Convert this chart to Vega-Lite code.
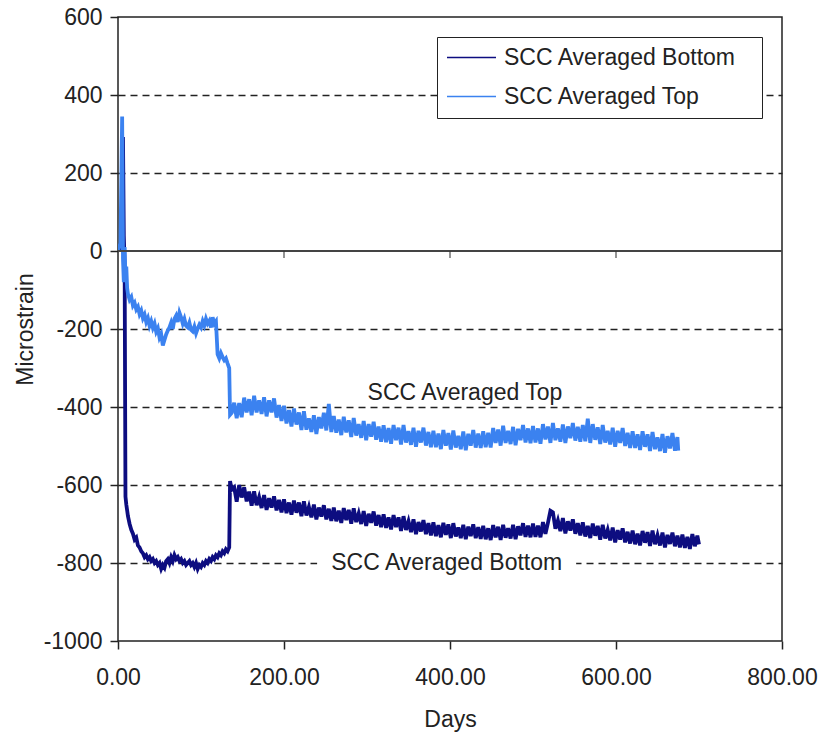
{
  "$schema": "https://vega.github.io/schema/vega-lite/v6.json",
  "width": 664,
  "height": 624,
  "autosize": "none",
  "padding": {"left": 118, "top": 17, "right": 43, "bottom": 95},
  "background": "white",
  "config": {
    "font": "Liberation Sans",
    "view": {"stroke": "#222", "strokeWidth": 1.5},
    "axis": {
      "domain": false,
      "labelFontSize": 23,
      "labelColor": "#222",
      "titleFontSize": 23,
      "titleFontWeight": "normal",
      "titleColor": "#222",
      "tickColor": "#222",
      "tickWidth": 1.5,
      "tickSize": 8
    }
  },
  "datasets": {
    "series": [
      {"d":0,"t":0,"b":0},{"d":3,"t":20,"b":10},{"d":5,"t":345,"b":40},{"d":6,"t":-20,"b":292},{"d":7,"t":-80,"b":40},{"d":8,"t":10,"b":-40},{"d":9,"t":-70,"b":-630},{"d":10,"t":-40,"b":-650},{"d":11,"t":-95,"b":-665},
      {"d":12,"t":-110,"b":-680},{"d":14,"t":-125,"b":-700},{"d":16,"t":-118,"b":-715},{"d":18,"t":-140,"b":-725},{"d":20,"t":-133,"b":-740},{"d":22,"t":-150,"b":-735},{"d":24,"t":-143,"b":-755},{"d":26,"t":-162,"b":-760},{"d":28,"t":-153,"b":-770},{"d":30,"t":-172,"b":-775},
      {"d":32,"t":-163,"b":-785},{"d":34,"t":-182,"b":-780},{"d":36,"t":-172,"b":-790},{"d":38,"t":-192,"b":-785},{"d":40,"t":-180,"b":-795},{"d":42,"t":-197,"b":-790},{"d":44,"t":-186,"b":-800},{"d":46,"t":-207,"b":-795},{"d":48,"t":-198,"b":-805},{"d":50,"t":-222,"b":-800},
      {"d":52,"t":-213,"b":-815},{"d":54,"t":-242,"b":-805},{"d":56,"t":-228,"b":-812},{"d":58,"t":-214,"b":-795},{"d":60,"t":-204,"b":-790},{"d":62,"t":-196,"b":-800},{"d":64,"t":-184,"b":-785},{"d":66,"t":-200,"b":-795},{"d":68,"t":-174,"b":-780},{"d":70,"t":-166,"b":-790},
      {"d":72,"t":-182,"b":-785},{"d":74,"t":-158,"b":-795},{"d":76,"t":-170,"b":-790},{"d":78,"t":-186,"b":-800},{"d":80,"t":-174,"b":-795},{"d":82,"t":-192,"b":-805},{"d":84,"t":-196,"b":-800},{"d":86,"t":-184,"b":-795},{"d":88,"t":-202,"b":-805},{"d":90,"t":-206,"b":-800},
      {"d":92,"t":-194,"b":-810},{"d":94,"t":-211,"b":-800},{"d":96,"t":-199,"b":-815},{"d":98,"t":-189,"b":-805},{"d":100,"t":-196,"b":-810},{"d":102,"t":-180,"b":-800},{"d":104,"t":-191,"b":-805},{"d":106,"t":-174,"b":-795},{"d":108,"t":-186,"b":-800},{"d":110,"t":-179,"b":-790},
      {"d":112,"t":-196,"b":-795},{"d":114,"t":-170,"b":-785},{"d":116,"t":-186,"b":-790},{"d":118,"t":-180,"b":-780},{"d":120,"t":-265,"b":-785},{"d":122,"t":-275,"b":-775},{"d":124,"t":-262,"b":-780},{"d":126,"t":-272,"b":-770},{"d":128,"t":-280,"b":-775},{"d":130,"t":-275,"b":-765},
      {"d":132,"t":-288,"b":-770},{"d":134,"t":-300,"b":-760},{"d":135,"t":-420,"b":-590},{"d":137,"t":-415,"b":-612},
      {"d":140,"t":-389,"b":-606},{"d":143,"t":-429,"b":-643},{"d":146,"t":-390,"b":-600},{"d":149,"t":-426,"b":-632},{"d":152,"t":-376,"b":-606},{"d":155,"t":-414,"b":-642},{"d":158,"t":-380,"b":-617},{"d":161,"t":-421,"b":-653},{"d":164,"t":-371,"b":-616},{"d":167,"t":-414,"b":-652},
      {"d":170,"t":-383,"b":-631},{"d":173,"t":-418,"b":-659},{"d":176,"t":-375,"b":-626},{"d":179,"t":-424,"b":-664},{"d":182,"t":-383,"b":-634},{"d":185,"t":-414,"b":-658},{"d":188,"t":-378,"b":-629},{"d":191,"t":-427,"b":-665},{"d":194,"t":-395,"b":-638},{"d":197,"t":-436,"b":-670},
      {"d":200,"t":-397,"b":-637},{"d":203,"t":-442,"b":-672},{"d":206,"t":-408,"b":-645},{"d":209,"t":-450,"b":-676},{"d":212,"t":-404,"b":-640},{"d":215,"t":-445,"b":-671},{"d":218,"t":-414,"b":-645},{"d":221,"t":-459,"b":-680},{"d":224,"t":-411,"b":-642},{"d":227,"t":-458,"b":-678},
      {"d":230,"t":-429,"b":-656},{"d":233,"t":-464,"b":-683},{"d":236,"t":-421,"b":-650},{"d":239,"t":-469,"b":-688},{"d":242,"t":-426,"b":-658},{"d":245,"t":-455,"b":-681},{"d":248,"t":-415,"b":-652},{"d":251,"t":-460,"b":-688},{"d":254,"t":-392,"b":-661},{"d":257,"t":-464,"b":-692},
      {"d":260,"t":-423,"b":-658},{"d":263,"t":-466,"b":-693},{"d":266,"t":-432,"b":-666},{"d":269,"t":-472,"b":-697},{"d":272,"t":-425,"b":-659},{"d":275,"t":-465,"b":-690},{"d":278,"t":-434,"b":-664},{"d":281,"t":-477,"b":-699},{"d":284,"t":-428,"b":-660},{"d":287,"t":-473,"b":-695},
      {"d":290,"t":-444,"b":-673},{"d":293,"t":-479,"b":-700},{"d":296,"t":-436,"b":-667},{"d":299,"t":-485,"b":-705},{"d":302,"t":-444,"b":-674},{"d":305,"t":-476,"b":-697},{"d":308,"t":-438,"b":-668},{"d":311,"t":-484,"b":-704},{"d":314,"t":-450,"b":-677},{"d":317,"t":-489,"b":-708},
      {"d":320,"t":-447,"b":-675},{"d":323,"t":-490,"b":-710},{"d":326,"t":-454,"b":-683},{"d":329,"t":-494,"b":-714},{"d":332,"t":-446,"b":-677},{"d":335,"t":-485,"b":-708},{"d":338,"t":-453,"b":-683},{"d":341,"t":-496,"b":-718},{"d":344,"t":-446,"b":-680},{"d":347,"t":-491,"b":-715},
      {"d":350,"t":-462,"b":-693},{"d":353,"t":-497,"b":-721},{"d":356,"t":-453,"b":-688},{"d":359,"t":-502,"b":-726},{"d":362,"t":-461,"b":-695},{"d":365,"t":-491,"b":-719},{"d":368,"t":-453,"b":-690},{"d":371,"t":-499,"b":-726},{"d":374,"t":-464,"b":-698},{"d":377,"t":-503,"b":-729},
      {"d":380,"t":-461,"b":-696},{"d":383,"t":-503,"b":-731},{"d":386,"t":-468,"b":-703},{"d":389,"t":-508,"b":-734},{"d":392,"t":-459,"b":-697},{"d":395,"t":-499,"b":-728},{"d":398,"t":-467,"b":-701},{"d":401,"t":-509,"b":-736},{"d":404,"t":-460,"b":-698},{"d":407,"t":-504,"b":-732},
      {"d":410,"t":-474,"b":-709},{"d":413,"t":-508,"b":-736},{"d":416,"t":-463,"b":-702},{"d":419,"t":-511,"b":-739},{"d":422,"t":-469,"b":-707},{"d":425,"t":-499,"b":-731},{"d":428,"t":-459,"b":-701},{"d":431,"t":-504,"b":-736},{"d":434,"t":-468,"b":-708},{"d":437,"t":-505,"b":-738},
      {"d":440,"t":-462,"b":-705},{"d":443,"t":-503,"b":-739},{"d":446,"t":-466,"b":-711},{"d":449,"t":-504,"b":-741},{"d":452,"t":-454,"b":-703},{"d":455,"t":-492,"b":-734},{"d":458,"t":-458,"b":-707},{"d":461,"t":-499,"b":-741},{"d":464,"t":-448,"b":-702},{"d":467,"t":-492,"b":-735},
      {"d":470,"t":-461,"b":-711},{"d":473,"t":-495,"b":-737},{"d":476,"t":-451,"b":-702},{"d":479,"t":-498,"b":-739},{"d":482,"t":-456,"b":-706},{"d":485,"t":-485,"b":-729},{"d":488,"t":-446,"b":-698},{"d":491,"t":-491,"b":-733},{"d":494,"t":-455,"b":-704},{"d":497,"t":-493,"b":-734},
      {"d":500,"t":-449,"b":-699},{"d":503,"t":-491,"b":-733},{"d":506,"t":-455,"b":-704},{"d":509,"t":-494,"b":-734},{"d":512,"t":-444,"b":-695},{"d":515,"t":-483,"b":-725},{"d":518,"t":-450,"b":-697},{"d":521,"t":-492,"b":-666},{"d":524,"t":-441,"b":-670},{"d":527,"t":-485,"b":-712},
      {"d":530,"t":-455,"b":-691},{"d":533,"t":-489,"b":-718},{"d":536,"t":-445,"b":-685},{"d":539,"t":-492,"b":-724},{"d":542,"t":-450,"b":-693},{"d":545,"t":-480,"b":-717},{"d":548,"t":-441,"b":-688},{"d":551,"t":-486,"b":-725},{"d":554,"t":-451,"b":-698},{"d":557,"t":-489,"b":-729},
      {"d":560,"t":-446,"b":-696},{"d":563,"t":-488,"b":-732},{"d":566,"t":-430,"b":-705},{"d":569,"t":-492,"b":-736},{"d":572,"t":-444,"b":-699},{"d":575,"t":-484,"b":-730},{"d":578,"t":-452,"b":-705},{"d":581,"t":-495,"b":-740},{"d":584,"t":-446,"b":-702},{"d":587,"t":-491,"b":-737},
      {"d":590,"t":-461,"b":-715},{"d":593,"t":-496,"b":-742},{"d":596,"t":-453,"b":-709},{"d":599,"t":-502,"b":-747},{"d":602,"t":-461,"b":-716},{"d":605,"t":-492,"b":-740},{"d":608,"t":-454,"b":-711},{"d":611,"t":-500,"b":-747},{"d":614,"t":-466,"b":-720},{"d":617,"t":-505,"b":-750},
      {"d":620,"t":-462,"b":-717},{"d":623,"t":-505,"b":-752},{"d":626,"t":-470,"b":-725},{"d":629,"t":-510,"b":-755},{"d":632,"t":-462,"b":-718},{"d":635,"t":-502,"b":-748},{"d":638,"t":-470,"b":-721},{"d":641,"t":-513,"b":-756},{"d":644,"t":-464,"b":-717},{"d":647,"t":-508,"b":-752},
      {"d":650,"t":-478,"b":-729},{"d":653,"t":-513,"b":-755},{"d":656,"t":-469,"b":-722},{"d":659,"t":-517,"b":-760},{"d":662,"t":-475,"b":-728},{"d":665,"t":-506,"b":-751},{"d":668,"t":-467,"b":-722},{"d":671,"t":-512,"b":-757},{"d":674,"t":-477,"b":-730},{"d":675,"t":-512},
      {"d":677,"b":-760},{"d":680,"b":-727},{"d":683,"b":-761},{"d":686,"b":-733},{"d":689,"b":-764},{"d":692,"b":-726},{"d":695,"b":-757},{"d":698,"b":-730},{"d":700,"b":-752}
    ],
    "zeroTicks": [{"d": 200}, {"d": 400}, {"d": 600}],
    "notes": [
      {"d": 418, "v": -382, "txt": "SCC Averaged Top"},
      {"d": 396, "v": -818, "txt": "SCC Averaged Bottom"}
    ],
    "mask": [{"d": 240, "d2": 552, "v": -794, "v2": -806}]
  },
  "layer": [
    {
      "data": {"name": "series"},
      "transform": [
        {"fold": ["b", "t"], "as": ["s", "v"]},
        {"filter": "isValid(datum.v)"}
      ],
      "mark": {"type": "line", "strokeWidth": 3.8, "strokeJoin": "miter", "clip": true},
      "encoding": {
        "x": {
          "field": "d", "type": "quantitative",
          "scale": {"domain": [0, 800], "nice": false},
          "axis": {
            "title": "Days", "values": [0, 200, 400, 600, 800], "format": ".2f",
            "grid": false, "labelFlush": false, "labelPadding": 17, "titlePadding": 19
          }
        },
        "y": {
          "field": "v", "type": "quantitative",
          "scale": {"domain": [-1000, 600], "nice": false},
          "axis": {
            "title": "Microstrain",
            "values": [-1000, -800, -600, -400, -200, 0, 200, 400, 600],
            "labelExpr": "'' + datum.value",
            "labelPadding": 8, "titlePadding": 6,
            "grid": true, "gridColor": "#222", "gridDash": [7, 5], "gridWidth": 1.3,
            "gridOpacity": {"condition": {"test": "datum.value == 0 || datum.value == 600 || datum.value == -1000", "value": 0}, "value": 1}
          }
        },
        "color": {
          "field": "s", "type": "nominal",
          "scale": {"domain": ["b", "t"], "range": ["#0d0d80", "#3b82f0"]},
          "legend": {
            "title": "M", "titleOrient": "right", "titleFontSize": 10, "titleColor": "white", "titlePadding": 8,
            "orient": "none", "legendX": 319, "legendY": 20,
            "direction": "vertical", "symbolType": "stroke", "symbolSize": 2400,
            "symbolStrokeWidth": 1.5, "clipHeight": 23, "rowPadding": 15,
            "padding": 9, "labelOffset": 7, "labelFontSize": 23, "labelColor": "#222",
            "strokeColor": "#222", "fillColor": "white", "labelLimit": 400,
            "labelExpr": "datum.label == 'b' ? 'SCC Averaged Bottom' : 'SCC Averaged Top'"
          }
        }
      }
    },
    {
      "data": {"name": "mask"},
      "mark": {"type": "rect", "fill": "white"},
      "encoding": {
        "x": {"field": "d", "type": "quantitative"},
        "x2": {"field": "d2"},
        "y": {"field": "v", "type": "quantitative"},
        "y2": {"field": "v2"}
      }
    },
    {
      "data": {"values": [{}]},
      "mark": {"type": "rule", "color": "#444", "strokeWidth": 2},
      "encoding": {"y": {"datum": 0, "type": "quantitative"}}
    },
    {
      "data": {"name": "zeroTicks"},
      "mark": {"type": "tick", "orient": "vertical", "color": "#333", "thickness": 1.5, "size": 7, "yOffset": 3.5},
      "encoding": {
        "x": {"field": "d", "type": "quantitative"},
        "y": {"datum": 0, "type": "quantitative"}
      }
    },
    {
      "data": {"name": "notes"},
      "mark": {"type": "text", "fontSize": 23, "color": "#222", "align": "center", "baseline": "alphabetic"},
      "encoding": {
        "x": {"field": "d", "type": "quantitative"},
        "y": {"field": "v", "type": "quantitative"},
        "text": {"field": "txt"}
      }
    }
  ]
}
